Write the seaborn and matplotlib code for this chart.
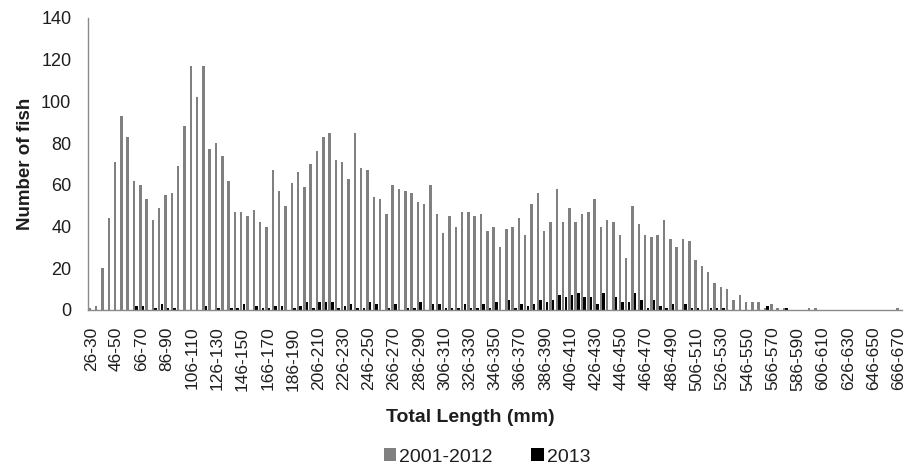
import numpy as np
import pandas as pd
import matplotlib
matplotlib.use("Agg")
import matplotlib.pyplot as plt
from matplotlib.patches import Patch
import seaborn as sns

# ---- data -------------------------------------------------------------
bin_starts = list(range(26, 671, 5))
categories = [f"{s}-{s + 4}" for s in bin_starts]          # 26-30 ... 666-670

counts_2001_2012 = [
    1, 2, 20, 44, 71, 93, 83, 62, 60, 53,
    43, 49, 55, 56, 69, 88, 117, 102, 117, 77,
    80, 74, 62, 47, 47, 45, 48, 42, 40, 67,
    57, 50, 61, 66, 59, 70, 76, 83, 85, 72,
    71, 63, 85, 68, 67, 54, 53, 46, 60, 58,
    57, 56, 52, 51, 60, 46, 37, 45, 40, 47,
    47, 45, 46, 38, 40, 30, 39, 40, 44, 36,
    51, 56, 38, 42, 58, 42, 49, 42, 46, 47,
    53, 40, 43, 42, 36, 25, 50, 41, 36, 35,
    36, 43, 34, 30, 34, 33, 24, 21, 18, 13,
    11, 10, 5, 7, 4, 4, 4, 1, 3, 1,
    1, 0, 0, 0, 1, 1, 0, 0, 0, 0,
    0, 0, 0, 0, 0, 0, 0, 0, 1,
]

counts_2013 = [
    0, 0, 0, 0, 0, 0, 0, 2, 2, 0,
    1, 3, 1, 1, 0, 0, 0, 0, 2, 0,
    1, 0, 1, 1, 3, 0, 2, 1, 1, 2,
    2, 0, 1, 2, 4, 1, 4, 4, 4, 1,
    2, 3, 1, 1, 4, 3, 0, 1, 3, 0,
    1, 1, 4, 0, 3, 3, 1, 1, 1, 3,
    1, 1, 3, 1, 4, 0, 5, 1, 3, 2,
    3, 5, 4, 5, 7, 6, 7, 8, 6, 6,
    3, 8, 0, 6, 4, 4, 8, 5, 1, 5,
    2, 1, 3, 0, 3, 1, 1, 0, 1, 1,
    1, 0, 0, 0, 0, 0, 0, 2, 0, 0,
    1, 0, 0, 0, 0, 0, 0, 0, 0, 0,
    0, 0, 0, 0, 0, 0, 0, 0, 0,
]

series_names = ["2001-2012", "2013"]
series_colors = ["#808080", "#000000"]
tick_labels = categories[::4]

# ---- frame ------------------------------------------------------------
df = pd.DataFrame({
    "Length": categories * 2,
    "Count": counts_2001_2012 + counts_2013,
    "Period": [series_names[0]] * len(categories) + [series_names[1]] * len(categories),
})

sns.set_style("white")
plt.rcParams["font.family"] = ["Liberation Sans", "DejaVu Sans"]
text_col = "#1e1e1e"
axis_col = "#8a8a8a"

fig = plt.figure(figsize=(9.06, 4.72), dpi=100)
ax = fig.add_axes([88 / 906, 1 - 310 / 472, (902 - 88) / 906, (310 - 18) / 472])

sns.barplot(data=df, x="Length", y="Count", hue="Period", order=categories,
            hue_order=series_names, palette=dict(zip(series_names, series_colors)),
            width=0.85, gap=0.08, errorbar=None, saturation=1, linewidth=0,
            legend=False, ax=ax)

ax.set_xlim(-0.5, len(categories) - 0.5)
ax.set_ylim(0, 140)
ax.set_yticks(range(0, 141, 20))
ax.tick_params(axis="y", labelsize=13, colors=text_col, length=5, width=1,
               color=axis_col, pad=7)

ax.set_xticks(range(0, len(categories), 4))
ax.set_xticklabels(tick_labels, rotation=90, fontsize=12.5, color=text_col)
ax.tick_params(axis="x", which="major", length=0, pad=12)
ax.set_xticks(np.arange(-0.5, len(categories), 1), minor=True)
ax.tick_params(axis="x", which="minor", length=5, width=1, color=axis_col)

for side in ["top", "right"]:
    ax.spines[side].set_visible(False)
for side in ["left", "bottom"]:
    ax.spines[side].set_color(axis_col)
    ax.spines[side].set_linewidth(1)

ax.set_ylabel("Number of fish", fontsize=13.5, fontweight="bold", color=text_col, labelpad=5)
ax.set_xlabel("")
fig.text(470 / 906, 1 - 418 / 472, "Total Length (mm)", fontsize=14, fontweight="bold",
         color=text_col, ha="center", va="center")

handles = [Patch(facecolor=c, edgecolor="none") for c in series_colors]
fig.legend(handles, series_names, loc="center", bbox_to_anchor=(487 / 906, 1 - 457 / 472),
           ncol=2, frameon=False, fontsize=14, handlelength=0.65, handleheight=0.65,
           handletextpad=0.15, columnspacing=2.0, labelcolor=text_col)

fig.savefig("out.png", dpi=100, facecolor="white")
